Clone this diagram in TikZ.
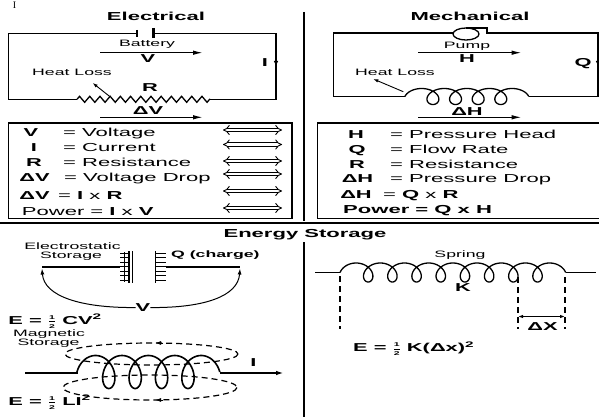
\documentclass[tikz,border=0pt]{standalone}
\usepackage{fontspec}
\setmainfont{Liberation Sans}[FakeStretch=1.9]
\newfontfamily\seriffont{Liberation Serif}
\usetikzlibrary{arrows.meta,decorations.pathmorphing}
\newcommand{\halfsym}{\ensuremath{\frac{\mbox{\fontsize{5.5}{5.5}\selectfont\bfseries 1}}{\mbox{\fontsize{5.5}{5.5}\selectfont\bfseries 2}}}}
\tikzset{
  wire/.style={line width=1.3pt},
  lbl/.style={font=\fontsize{9.3}{10}\selectfont, inner sep=0, anchor=base},
  sym/.style={font=\fontsize{11.5}{12}\selectfont\bfseries, inner sep=0, anchor=base},
  ttl/.style={font=\fontsize{11.6}{12}\selectfont\bfseries, inner sep=0, anchor=base},
  rowtxt/.style={font=\fontsize{11.6}{12}\selectfont, inner sep=0, anchor=base west},
  flowarrow/.style={line width=1.3pt, -{Latex[length=10pt,width=4.5pt]}},
  smallarrow/.style={line width=0.9pt, -{Latex[length=5pt,width=3.5pt]}},
  dblarrow/.style={double, double distance=2.6pt, line width=0.9pt, {Implies}-{Implies}},
  dsh/.style={line width=1.6pt, dash pattern=on 6pt off 4pt},
}
\begin{document}
\begin{tikzpicture}[x=1pt,y=-1pt]
\useasboundingbox (0,0) rectangle (599,417);
\clip (0,0) rectangle (599,417);

% stray glyph at the top edge
\node[font=\seriffont\fontsize{10}{10}\selectfont, anchor=base, inner sep=0] (artI) at (14.5,8.5) {I};

% titles
\node[ttl] (tEl) at (156,20.7) {Electrical};
\node[ttl] (tMe) at (470,20.7) {Mechanical};
\node[ttl] (tES) at (305,237) {Energy Storage};

% dividers
\coordinate (d1) at (304,12); \coordinate (d2) at (304,221);
\draw[line width=2.2pt] (d1) -- (d2);
\coordinate (d3) at (304,242); \coordinate (d4) at (304,420);
\draw[line width=2.2pt] (d3) -- (d4);
\coordinate (h1) at (-2,223); \coordinate (h2) at (601,223);
\draw[line width=2.6pt] (h1) -- (h2);

% ===== Electrical circuit =====
\draw[wire] (137,33.3) -- (8.3,33.3) -- (8.3,99.3) -- (77,99.3);
\draw[wire, decorate, decoration={zigzag, segment length=10.2pt, amplitude=3pt}] (77,99.3) -- (210,99.3);
\draw[wire] (210,99.3) -- (276,99.3) -- (276,33.3) -- (153.5,33.3);
\draw[line width=1.2pt] (137,30) -- (137,37);
\draw[line width=3pt] (153.5,28) -- (153.5,38.5);
\node[lbl] (bat) at (147,46.7) {Battery};
\coordinate (va) at (100,52.7); \coordinate (vb) at (203,52.7);
\draw[flowarrow] (va) -- (vb);
\node[sym] (V) at (148,63) {V};
\node[sym] (Ilab) at (265,67) {I};
\coordinate (ia) at (276,57); \coordinate (ib) at (276,67);
\draw[line width=1.3pt, -{Latex[length=6pt,width=4.5pt]}] (ia) -- (ib);
\node[lbl] (hl1) at (72,76) {Heat Loss};
\coordinate (ha) at (110,96.7); \coordinate (hb) at (92.7,83);
\draw[smallarrow] (ha) -- (hb);
\node[sym] (R) at (150,92) {R};
\node[sym] (dV) at (148,114.5) {ΔV};
\coordinate (dva) at (100,117.3); \coordinate (dvb) at (203,117.3);
\draw[flowarrow] (dva) -- (dvb);

% ===== Mechanical circuit =====
\draw[wire] (453,33) -- (333.3,33) -- (333.3,96.7) -- (405,96.7);
\draw[wire] plot[domain=0.5*pi:9.5*pi, samples=300, variable=\t] ({410.3+3.6*\t-11*sin(\t r)}, {96.5+8*cos(\t r)});
\draw[wire] (528.7,96.7) -- (598,96.7) -- (598,33) -- (487,33) -- (487,28) -- (466,28);
\draw[wire] (466,34) ellipse [x radius=13, y radius=6];
\node[lbl] (pump) at (467,49) {Pump};
\coordinate (pa) at (418.3,52.7); \coordinate (pb) at (521.7,52.7);
\draw[flowarrow] (pa) -- (pb);
\node[sym] (H) at (467,63) {H};
\node[sym] (Q) at (583,66.5) {Q};
\coordinate (qa) at (598,57); \coordinate (qb) at (598,67);
\draw[line width=1.3pt, -{Latex[length=6pt,width=4.5pt]}] (qa) -- (qb);
\node[lbl] (hl2) at (395,76) {Heat Loss};
\coordinate (hc) at (403.3,91.7); \coordinate (hd) at (373.3,79);
\draw[smallarrow] (hc) -- (hd);
\node[sym] (dH) at (467,115) {ΔH};
\coordinate (dha) at (418.3,117.3); \coordinate (dhb) at (521.7,117.3);
\draw[flowarrow] (dha) -- (dhb);

% ===== Electrical table =====
\draw[wire] (8.3,123) rectangle (292,218.3);
\node[sym] (tV) at (31,136.5) {V};
\node[rowtxt] (tVt) at (63,136.5) {= Voltage};
\node[sym] (tI) at (34,151.5) {I};
\node[rowtxt] (tIt) at (63,151.5) {= Current};
\node[sym] (tR) at (34,166.5) {R};
\node[rowtxt] (tRt) at (63,166.5) {= Resistance};
\node[sym] (tdV) at (34.5,181) {ΔV};
\node[rowtxt] (tdVt) at (64,181) {= Voltage Drop};
\node[sym] (tdV2) at (34.5,199) {ΔV};
\node[rowtxt] (tdV2t) at (58,199) {= \textbf{I} x \textbf{R}};
\node[rowtxt] (tP) at (21.7,215.5) {Power = \textbf{I} x \textbf{V}};
\foreach \yy/\nm in {130/a,144.5/b,161/c,174/d,191/e,208/f}{
  \coordinate (L\nm) at (223,\yy); \coordinate (R\nm) at (282,\yy);
  \draw[dblarrow] (L\nm) -- (R\nm);
}

% ===== Mechanical table =====
\draw[wire] (317.5,123) rectangle (610,218.3);
\node[sym] (mH) at (356,139) {H};
\node[rowtxt] (mHt) at (390,139) {= Pressure Head};
\node[sym] (mQ) at (357,153.5) {Q};
\node[rowtxt] (mQt) at (390,153.5) {= Flow Rate};
\node[sym] (mR) at (357,168.3) {R};
\node[rowtxt] (mRt) at (390,168.3) {= Resistance};
\node[sym] (mdH) at (357.5,182.7) {ΔH};
\node[rowtxt] (mdHt) at (390,182.7) {= Pressure Drop};
\node[sym] (mdH2) at (356,198.3) {ΔH};
\node[rowtxt] (mdH2t) at (383,198.3) {= \textbf{Q} x \textbf{R}};
\node[rowtxt, font=\fontsize{11.6}{12}\selectfont\bfseries] (mP) at (343,213.3) {Power = Q x H};

% ===== Electrostatic storage =====
\node[lbl] (es1) at (72.5,249.3) {Electrostatic};
\node[lbl] (es2) at (71,258.3) {Storage};
\foreach \yy in {253,257.5,262,266.5,271,275.5,280}{
  \draw[line width=1pt] (120,\yy) -- (130,\yy);
  \draw[line width=1pt] (156,\yy) -- (166,\yy);
}
\draw[line width=1pt] (124.5,252) -- (124.5,282);
\draw[line width=1.3pt] (129,251) -- (129,283);
\draw[line width=1.3pt] (132.5,251) -- (132.5,283);
\draw[line width=1.5pt] (155.5,251) -- (155.5,283);
\coordinate (cwl) at (42,267); \coordinate (cwl2) at (120,267);
\coordinate (cwr) at (166,267); \coordinate (cwr2) at (240,267);
\draw[wire] (cwl) -- (cwl2);
\draw[wire] (cwr) -- (cwr2);
\node[lbl, font=\fontsize{9.3}{10}\selectfont\bfseries, anchor=base west] (qc) at (171,257) {Q (charge)};
\node[sym] (VC) at (143,311.5) {V};
\coordinate (al) at (42,268.5); \coordinate (ar) at (240,268.5);
\draw[line width=1pt, -{Latex[length=6pt,width=4pt]}] (VC.west) .. controls (80,308) and (44,296) .. (al);
\draw[line width=1pt, -{Latex[length=6pt,width=4pt]}] (VC.east) .. controls (205,308) and (238,296) .. (ar);
\node[sym, anchor=base west] (Ec) at (8.3,324) {E = \halfsym\ CV\textsuperscript{2}};

% ===== Magnetic storage =====
\node[lbl] (ms1) at (49,336.7) {Magnetic};
\node[lbl] (ms2) at (48.5,345.3) {Storage};
\draw[dsh, line width=1.2pt] (151.5,354) ellipse [x radius=86.5, y radius=11];
\draw[dsh, line width=1.2pt] (150,387.5) ellipse [x radius=87, y radius=12.5];
\coordinate (ea) at (163,343); \coordinate (eb) at (155,343);
\draw[line width=1pt, -{Latex[length=6pt,width=4pt]}] (ea) -- (eb);
\coordinate (ec) at (163,400); \coordinate (ed) at (155,400);
\draw[line width=1pt, -{Latex[length=6pt,width=4pt]}] (ec) -- (ed);
\draw[line width=2pt] (25,373) -- (77,373) -- (77,372);
\draw[line width=1.6pt] plot[domain=0.5*pi:9.5*pi, samples=300, variable=\t] ({82.4+4.2*\t-12*sin(\t r)}, {372+16.5*cos(\t r)});
\coordinate (mwa) at (219.7,373); \coordinate (mwb) at (284,373);
\draw[line width=2pt, -{Latex[length=8pt,width=4.5pt]}] (mwa) -- (mwb);
\node[sym] (Im) at (253.5,366) {I};
\node[sym, anchor=base west] (El) at (8.3,405) {E = \halfsym\ LI\textsuperscript{2}};

% ===== Spring =====
\node[lbl] (spr) at (460,257.7) {Spring};
\draw[wire] (315,272.5) -- (340,272.5);
\draw[wire] plot[domain=0.5*pi:17.5*pi, samples=500, variable=\t] ({344+3.85*\t-10*sin(\t r)}, {272.5+9.5*cos(\t r)});
\draw[wire] (565.7,272.5) -- (596,272.5);
\node[sym] (K) at (463,291) {K};
\coordinate (s1a) at (340,276); \coordinate (s1b) at (340,329);
\coordinate (s2a) at (518,277); \coordinate (s2b) at (518,329);
\coordinate (s3a) at (565,277); \coordinate (s3b) at (565,329);
\draw[dsh] (s1a) -- (s1b);
\draw[dsh] (s2a) -- (s2b);
\draw[dsh] (s3a) -- (s3b);
\coordinate (xa) at (518,316.5); \coordinate (xb) at (565,316.5);
\draw[line width=1.1pt, {Latex[length=5pt,width=3.5pt]}-{Latex[length=5pt,width=3.5pt]}] (xa) -- (xb);
\node[sym] (dX) at (542.5,330) {ΔX};
\node[sym, anchor=base west] (Ek) at (353,351.7) {E = \halfsym\ K(Δx)\textsuperscript{2}};
\end{tikzpicture}
\end{document}
